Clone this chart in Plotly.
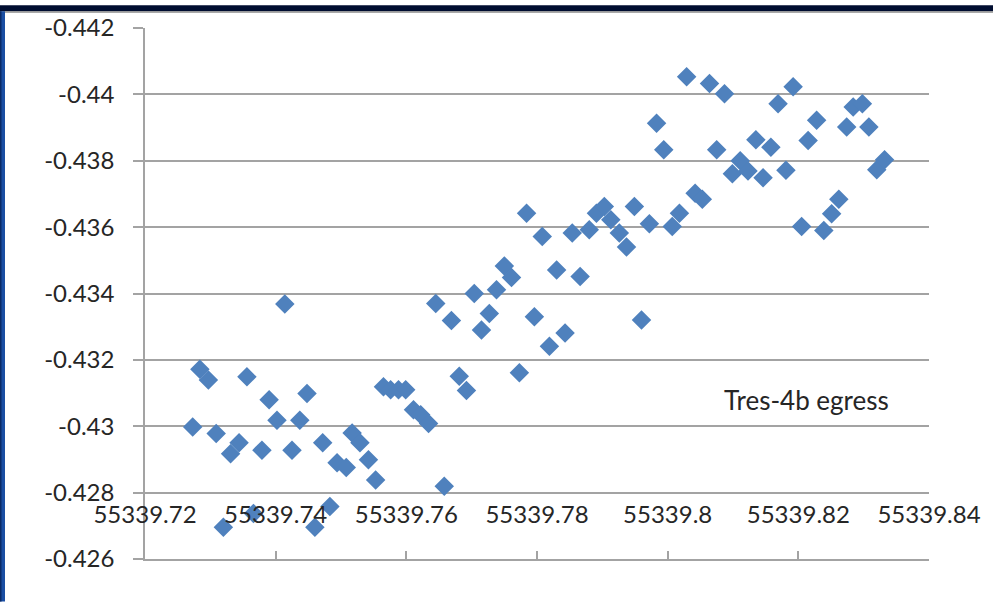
import plotly.graph_objects as go

# Egress timing residuals (time in days vs. residual value)
time_days = [
    55339.7273, 55339.7284, 55339.7297, 55339.7309, 55339.7320, 55339.7331, 55339.7344, 55339.7356,
    55339.7366, 55339.7379, 55339.7390, 55339.7402, 55339.7414, 55339.7425, 55339.7437, 55339.7448,
    55339.7460, 55339.7472, 55339.7483, 55339.7494, 55339.7508, 55339.7517, 55339.7529, 55339.7542,
    55339.7553, 55339.7565, 55339.7576, 55339.7588, 55339.7599, 55339.7611, 55339.7622, 55339.7634,
    55339.7645, 55339.7658, 55339.7669, 55339.7681, 55339.7692, 55339.7704, 55339.7715, 55339.7727,
    55339.7738, 55339.7750, 55339.7761, 55339.7773, 55339.7784, 55339.7796, 55339.7808, 55339.7819,
    55339.7830, 55339.7843, 55339.7854, 55339.7866, 55339.7880, 55339.7891, 55339.7903, 55339.7913,
    55339.7926, 55339.7937, 55339.7949, 55339.7960, 55339.7972, 55339.7983, 55339.7994, 55339.8007,
    55339.8018, 55339.8029, 55339.8042, 55339.8053, 55339.8064, 55339.8075, 55339.8087, 55339.8099,
    55339.8111, 55339.8123, 55339.8135, 55339.8146, 55339.8158, 55339.8169, 55339.8181, 55339.8192,
    55339.8205, 55339.8215, 55339.8228, 55339.8239, 55339.8251, 55339.8262, 55339.8274, 55339.8284,
    55339.8298, 55339.8308, 55339.8320, 55339.8332,
]

residual = [
    -0.42998, -0.43172, -0.43139, -0.42978, -0.42696, -0.42917, -0.42950, -0.43149,
    -0.42737, -0.42928, -0.43080, -0.43018, -0.43368, -0.42928, -0.43018, -0.43099,
    -0.42696, -0.42950, -0.42758, -0.42890, -0.42876, -0.42980, -0.42950, -0.42899,
    -0.42838, -0.43119, -0.43110, -0.43110, -0.43110, -0.43050, -0.43035, -0.43008,
    -0.43370, -0.42819, -0.43319, -0.43151, -0.43108, -0.43400, -0.43290, -0.43340,
    -0.43411, -0.43483, -0.43448, -0.43161, -0.43642, -0.43330, -0.43572, -0.43241,
    -0.43471, -0.43281, -0.43582, -0.43451, -0.43592, -0.43642, -0.43662, -0.43622,
    -0.43582, -0.43540, -0.43662, -0.43320, -0.43610, -0.43913, -0.43833, -0.43602,
    -0.43642, -0.44053, -0.43702, -0.43684, -0.44033, -0.43833, -0.44002, -0.43761,
    -0.43800, -0.43769, -0.43863, -0.43749, -0.43841, -0.43972, -0.43771, -0.44023,
    -0.43602, -0.43861, -0.43922, -0.43590, -0.43640, -0.43684, -0.43902, -0.43962,
    -0.43972, -0.43902, -0.43773, -0.43803,
]

x_ticks = [55339.72, 55339.74, 55339.76, 55339.78, 55339.80, 55339.82, 55339.84]
x_tick_labels = ["55339.72", "55339.74", "55339.76", "55339.78", "55339.8", "55339.82", "55339.84"]
y_ticks = [-0.442, -0.440, -0.438, -0.436, -0.434, -0.432, -0.430, -0.428, -0.426]
y_tick_labels = ["-0.442", "-0.44", "-0.438", "-0.436", "-0.434", "-0.432", "-0.43", "-0.428", "-0.426"]

series_label = "Tres-4b egress"

W, H = 993, 602
ML, MR, MT, MB = 145, 64, 23, 43
PW, PH = W - ML - MR, H - MT - MB


def px_x(px):
    return (px - ML) / PW


def px_y(py):
    return (H - MB - py) / PH


FONT = "Lato, 'Open Sans', sans-serif"
GRID = "#a3a3a3"
TEXT = "#262626"

fig = go.Figure()
fig.add_trace(go.Scatter(
    x=time_days, y=residual, mode="markers",
    marker=dict(symbol="diamond", size=15, color="#4F81BD", line=dict(width=0)),
    showlegend=False, hoverinfo="x+y",
))

fig.update_layout(
    width=W, height=H,
    margin=dict(l=ML, r=MR, t=MT, b=MB, pad=0),
    paper_bgcolor="white", plot_bgcolor="white",
    font=dict(family=FONT, size=24, color=TEXT),
    showlegend=False,
    xaxis=dict(
        range=[x_ticks[0], x_ticks[-1]], tickmode="array",
        tickvals=x_ticks, ticktext=x_tick_labels,
        showgrid=False, zeroline=False,
        showline=True, linecolor=GRID, linewidth=1.5,
        ticks="inside", ticklen=8, tickcolor=GRID, tickwidth=1.5,
        # labels sit inside the plot, lifted above the bottom axis line
        ticklabelposition="inside", ticklabelstandoff=25,
        ticklabeloverflow="allow",
        tickfont=dict(family=FONT, size=24, color=TEXT),
    ),
    yaxis=dict(
        range=[y_ticks[-1], y_ticks[0]], tickmode="array",
        tickvals=y_ticks, ticktext=y_tick_labels,
        showgrid=True, gridcolor=GRID, gridwidth=1.5, zeroline=False,
        showline=True, linecolor=GRID, linewidth=1.5,
        ticks="outside", ticklen=10, tickcolor=GRID, tickwidth=1.5,
        ticklabelstandoff=14, ticklabeloverflow="allow",
        tickfont=dict(family=FONT, size=24, color=TEXT),
    ),
    annotations=[dict(
        text=series_label, xref="paper", yref="paper",
        x=px_x(722), y=px_y(399), xanchor="left", yanchor="middle",
        showarrow=False, font=dict(family=FONT, size=26, color=TEXT),
    )],
    shapes=[
        # dark title strip along the top edge
        dict(type="rect", xref="paper", yref="paper", layer="above",
             x0=px_x(0), x1=px_x(W), y0=px_y(6), y1=px_y(0),
             fillcolor="#000d30", line=dict(width=0)),
        dict(type="rect", xref="paper", yref="paper", layer="above",
             x0=px_x(0), x1=px_x(W), y0=px_y(7.5), y1=px_y(6),
             fillcolor="#8c8c8c", line=dict(width=0)),
        # blue band along the left edge
        dict(type="rect", xref="paper", yref="paper", layer="above",
             x0=px_x(0), x1=px_x(5), y0=px_y(H), y1=px_y(6),
             fillcolor="#1a4ea3", line=dict(width=0)),
        dict(type="rect", xref="paper", yref="paper", layer="above",
             x0=px_x(0), x1=px_x(1.5), y0=px_y(H), y1=px_y(6),
             fillcolor="#0b2a66", line=dict(width=0)),
    ],
)

fig.write_html("out.html")
